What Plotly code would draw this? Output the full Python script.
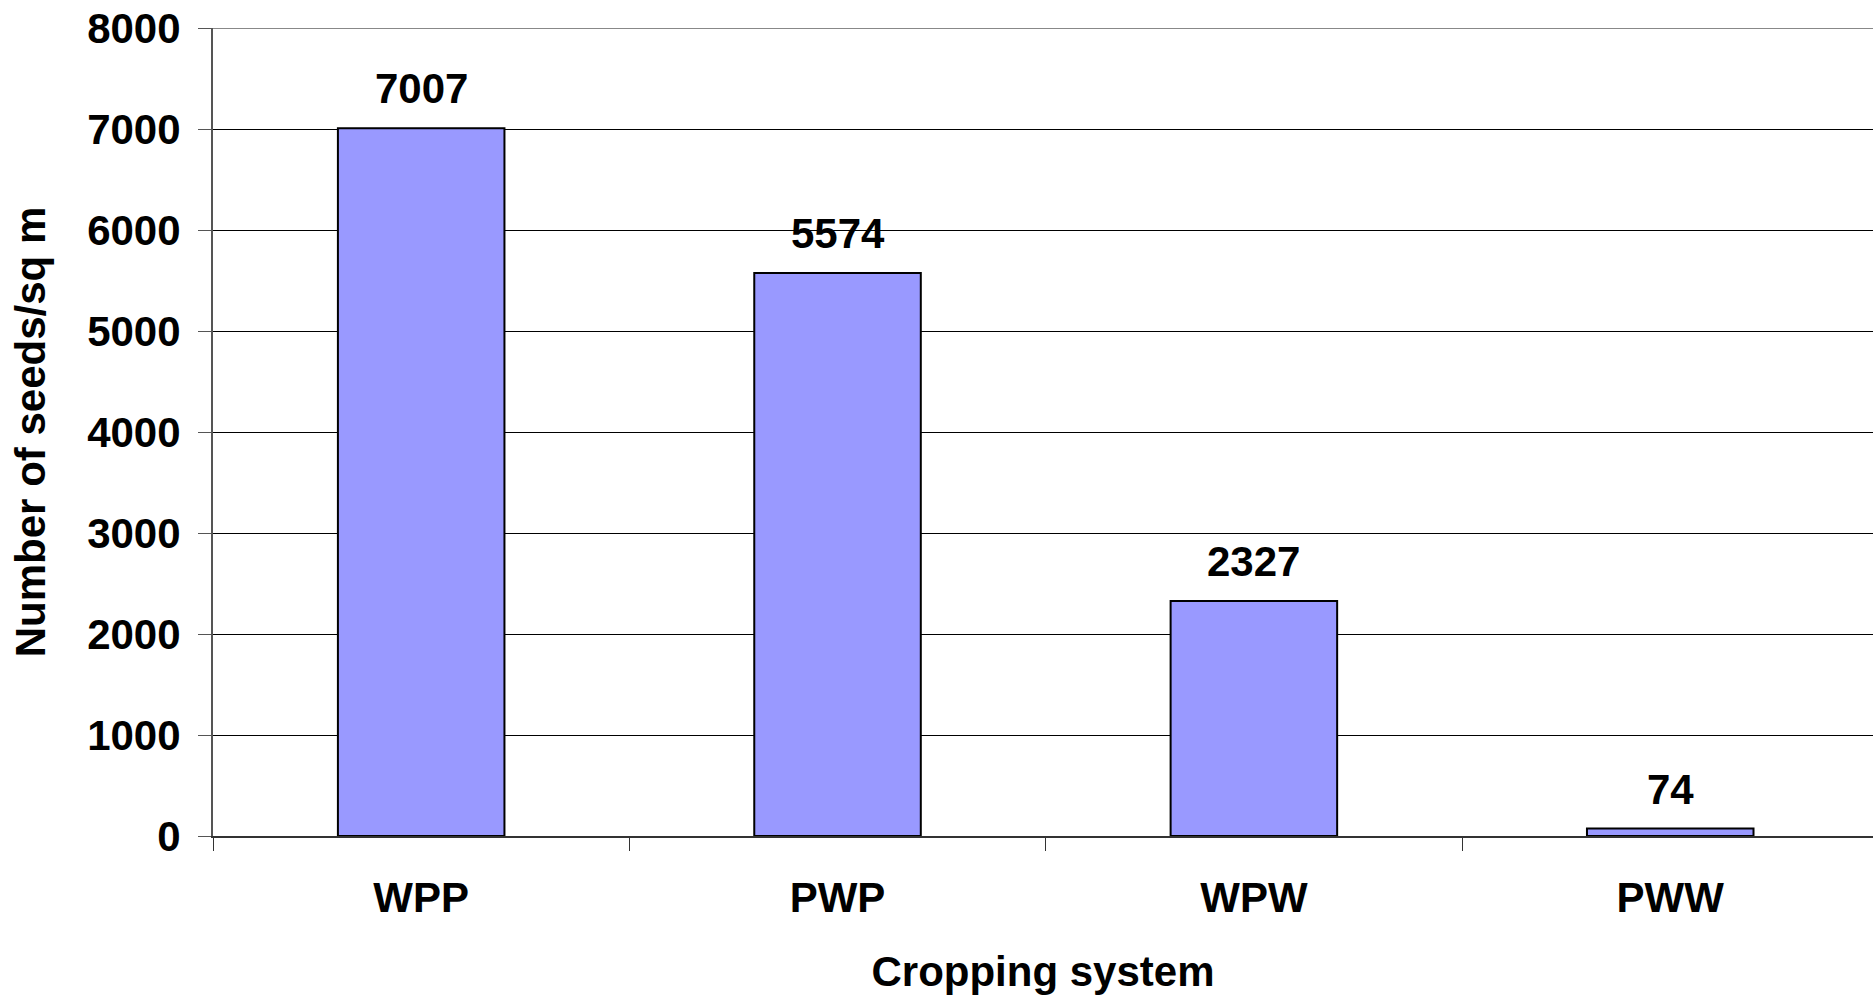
import plotly.graph_objects as go

systems = ['WPP', 'PWP', 'WPW', 'PWW']
seeds = [7007, 5574, 2327, 74]
y_ticks = [0, 1000, 2000, 3000, 4000, 5000, 6000, 7000, 8000]

FONT = 'Arial, Liberation Sans, sans-serif'

fig = go.Figure(go.Bar(
    x=systems, y=seeds,
    width=0.4,
    marker=dict(color='#9999ff', line=dict(color='#000000', width=2)),
    hoverinfo='x+y',
))

for s, v in zip(systems, seeds):
    fig.add_annotation(x=s, y=v, text=f'<b>{v}</b>', showarrow=False,
                       yanchor='bottom', yshift=14,
                       font=dict(family=FONT, size=42, color='#000000'))

# plot-area border along the top
fig.add_shape(type='line', xref='x domain', yref='y', x0=0, x1=1, y0=8000, y1=8000,
              line=dict(color='#888888', width=2), layer='above')

fig.update_layout(
    width=1873, height=995,
    paper_bgcolor='#ffffff', plot_bgcolor='#ffffff',
    margin=dict(l=213, r=0, t=28, b=159),
    font=dict(family=FONT, size=42, color='#000000'),
    showlegend=False,
    bargap=0.6,
)
fig.update_xaxes(
    type='category',
    range=[-0.5, 3.487],
    showline=True, linecolor='#333333', linewidth=2,
    ticks='outside', tickson='boundaries', ticklen=13, tickcolor='#333333', tickwidth=1,
    tickfont=dict(family=FONT, size=42, color='#000000', weight='bold'),
    ticklabelstandoff=24,
    showgrid=False, zeroline=False,
    title=dict(text='<b>Cropping system</b>', font=dict(family=FONT, size=42), standoff=37),
)
fig.update_yaxes(
    range=[0, 8000], tickvals=y_ticks,
    showline=True, linecolor='#555555', linewidth=2,
    ticks='outside', ticklen=13, tickcolor='#555555', tickwidth=1,
    tickfont=dict(family=FONT, size=42, color='#000000', weight='bold'),
    ticklabelstandoff=9, ticklabeloverflow='allow',
    showgrid=True, gridcolor='#000000', gridwidth=1, zeroline=False,
    title=dict(text='<b>Number of seeds/sq m</b>', font=dict(family=FONT, size=42), standoff=28),
)

# drop the default 8px body margin so the figure fills the window exactly
fig.write_html('out.html', config={'displayModeBar': False},
               post_script="document.body.style.margin='0';")
